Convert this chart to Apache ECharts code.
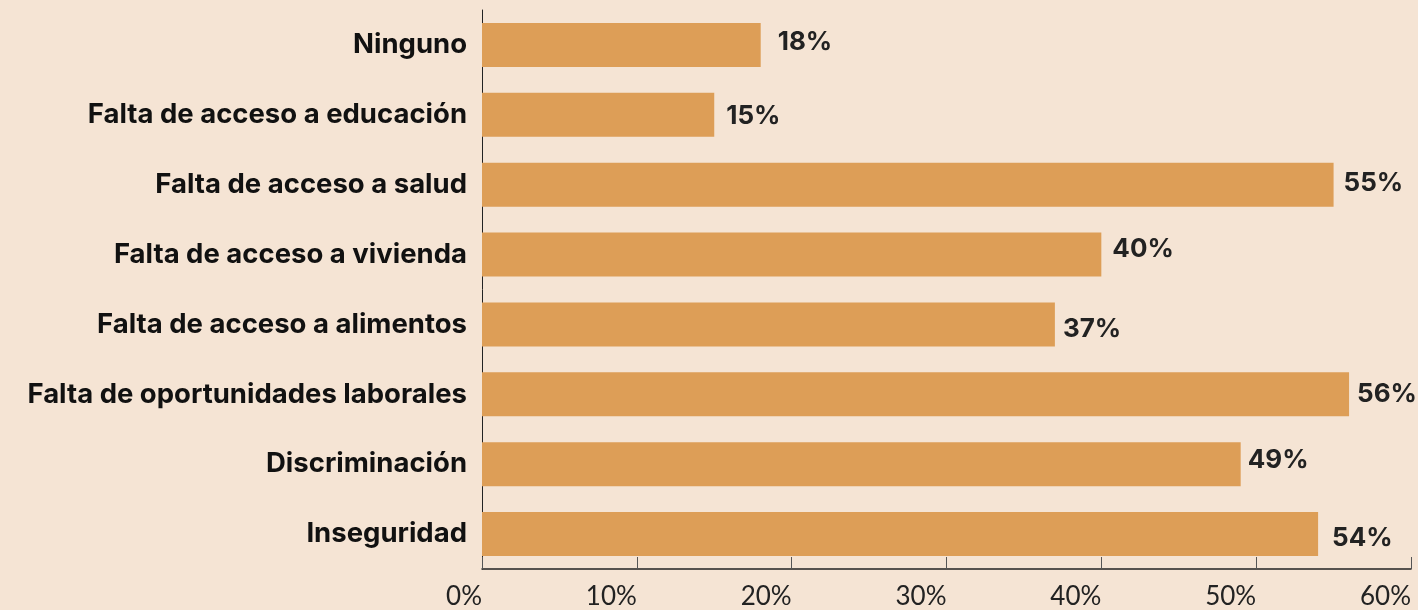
<!DOCTYPE html>
<html>
<head>
<meta charset="utf-8">
<script src="https://cdn.jsdelivr.net/npm/echarts@6/dist/echarts.min.js"></script>
<style>
  html, body { margin: 0; padding: 0; background: #f5e4d4; }
  #chart { width: 1418px; height: 610px; }
</style>
</head>
<body>
<div id="chart"></div>
<script>
// categorias, de arriba hacia abajo
const categories = [
    'Ninguno',
    'Falta de acceso a educación',
    'Falta de acceso a salud',
    'Falta de acceso a vivienda',
    'Falta de acceso a alimentos',
    'Falta de oportunidades laborales',
    'Discriminación',
    'Inseguridad'
];
const values = [18, 15, 55, 40, 37, 56, 49, 54];
const tickValues = [0, 10, 20, 30, 40, 50, 60];

// pequeños desplazamientos de las etiquetas como en la imagen original
const labelShift = [[7, -3], [2, 1], [0, -2], [1, -5], [-2, 5], [-2, 0], [-3, -4], [4, 4]];

let chart = echarts.init(document.getElementById('chart'));

let option = {
    backgroundColor: '#f5e4d4',
    animation: false,
    grid: {
        left: 482,
        right: 7,
        top: 10,
        bottom: 41
    },
    xAxis: {
        type: 'value',
        min: tickValues[0],
        max: tickValues[tickValues.length - 1],
        interval: 10,
        axisLine: { show: true, lineStyle: { color: '#222', width: 1.5 } },
        axisTick: { show: true, inside: true, length: 12, lineStyle: { color: '#555', width: 1 } },
        splitLine: { show: false },
        axisLabel: {
            formatter: '{value}%',
            align: 'right',
            margin: 15,
            color: '#222',
            fontFamily: 'Lato',
            fontSize: 26
        }
    },
    yAxis: {
        type: 'category',
        inverse: true,
        data: categories,
        axisLine: { show: true, lineStyle: { color: '#222', width: 1 } },
        axisTick: { show: false },
        axisLabel: {
            margin: 15,
            color: '#111',
            fontFamily: 'Inter',
            fontWeight: 'bold',
            fontSize: 27.5
        }
    },
    series: [
        {
            type: 'bar',
            barCategoryGap: '37%',
            itemStyle: { color: '#dd9e57' },
            data: values.map((v, i) => ({
                value: v,
                label: { offset: labelShift[i] }
            })),
            label: {
                show: true,
                position: 'right',
                distance: 10,
                formatter: '{c}%',
                color: '#222',
                fontFamily: 'Inter',
                fontWeight: 'bold',
                fontSize: 26
            }
        }
    ]
};

chart.setOption(option);
</script>
</body>
</html>
